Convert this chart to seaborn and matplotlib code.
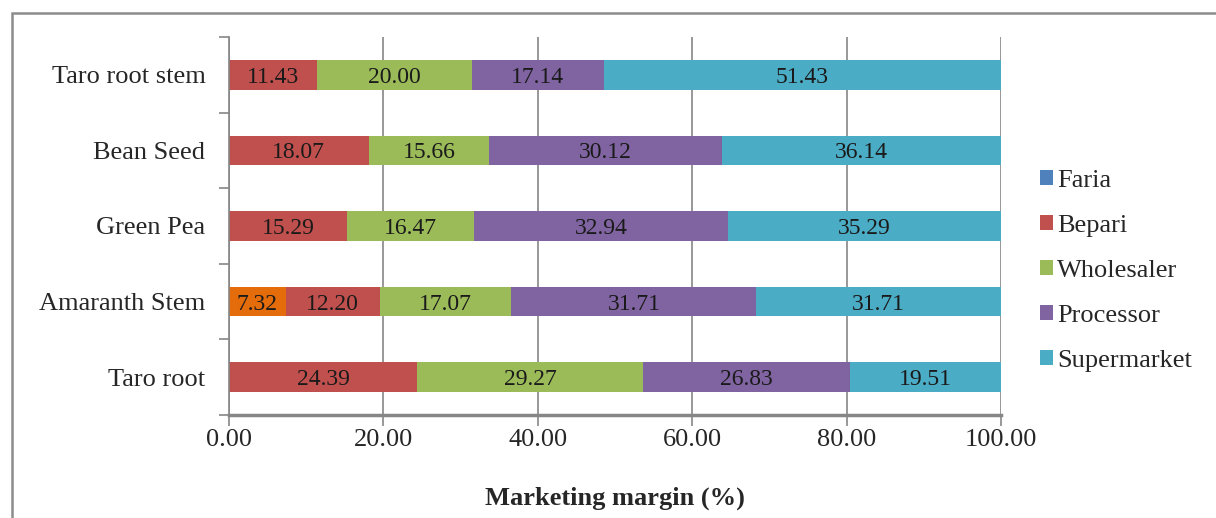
import pandas as pd
import matplotlib.pyplot as plt
import seaborn as sns
from matplotlib.patches import Patch, Rectangle

sns.set_style("white")
plt.rcParams["font.family"] = ["Liberation Serif", "DejaVu Serif"]

# data
products = ["Taro root stem", "Bean Seed", "Green Pea", "Amaranth Stem", "Taro root"]
actors = ["Faria", "Bepari", "Wholesaler", "Processor", "Supermarket"]
faria = [0.00, 0.00, 0.00, 7.32, 0.00]
bepari = [11.43, 18.07, 15.29, 12.20, 24.39]
wholesaler = [20.00, 15.66, 16.47, 17.07, 29.27]
processor = [17.14, 30.12, 32.94, 31.71, 26.83]
supermarket = [51.43, 36.14, 35.29, 31.71, 19.51]

colors = {"Faria": "#4F81BD", "Bepari": "#C0504D", "Wholesaler": "#9BBB59",
          "Processor": "#8064A2", "Supermarket": "#4BACC6"}
amaranth_faria = "#E46C0A"

df = pd.DataFrame({"Product": products, "Faria": faria, "Bepari": bepari,
                   "Wholesaler": wholesaler, "Processor": processor,
                   "Supermarket": supermarket})
cum = df[actors].cumsum(axis=1)
cum["Product"] = df["Product"]

fig = plt.figure(figsize=(12.16, 5.18), dpi=100)
ax = fig.add_axes([229 / 1216, 1 - 415 / 518, (1001 - 229) / 1216, (415 - 37) / 518])

# stacked bars: draw the cumulative totals from the outermost layer inwards
for actor in reversed(actors):
    pal = [colors[actor]] * len(products)
    if actor == "Faria":
        pal = [amaranth_faria if p == "Amaranth Stem" else colors[actor] for p in products]
    sns.barplot(data=cum, x=actor, y="Product", hue="Product", palette=pal,
                orient="h", width=0.39, legend=False, saturation=1,
                linewidth=0, ax=ax)

# segment labels
for i, p in enumerate(products):
    left = 0
    for actor in actors:
        v = df.loc[i, actor]
        if v > 0:
            ax.text(left + v / 2, i, f"{v:.2f}", ha="center", va="center_baseline",
                    fontsize=17, color="#1a1a1a")
        left += v

ax.set_xlim(0, 100)
ax.set_ylim(4.5, -0.5)
ax.set_xticks([0, 20, 40, 60, 80, 100])
ax.set_xticklabels([f"{t:.2f}" for t in [0, 20, 40, 60, 80, 100]], fontsize=19)
ax.set_yticks(range(len(products)))
ax.set_yticklabels(products, fontsize=19)
ax.set_yticks([k - 0.5 for k in range(len(products) + 1)], minor=True)
ax.tick_params(axis="y", which="major", left=True, length=0, pad=17)
ax.tick_params(axis="y", which="minor", left=True, length=7, width=1.2,
               color="#868686", direction="out")
ax.tick_params(axis="x", bottom=True, length=8, width=1.2, color="#868686",
               direction="out", pad=2)
ax.set_ylabel("")
ax.set_xlabel("Marketing margin (%)", fontsize=19, fontweight="bold", labelpad=26)

ax.grid(axis="x", color="#868686", linewidth=1.2)
ax.set_axisbelow(True)
for side in ["top", "right"]:
    ax.spines[side].set_visible(False)
ax.spines["left"].set_color("#868686")
ax.spines["left"].set_linewidth(1.2)
ax.spines["bottom"].set_color("#868686")
ax.spines["bottom"].set_linewidth(2.5)

handles = [Patch(facecolor=colors[a], edgecolor="none") for a in actors]
fig.legend(handles, actors, loc="center left", bbox_to_anchor=(1027 / 1216, 1 - 271 / 518),
           frameon=False, fontsize=19, handlelength=0.5, handleheight=0.5,
           handletextpad=0.15, labelspacing=0.87, borderpad=0)

# figure frame (only top and left are visible in the crop)
fig.patches.append(Rectangle((12 / 1216, -0.1), 1.2, 1 - 13 / 518 + 0.1,
                             transform=fig.transFigure, fill=False,
                             edgecolor="#8c8c8c", linewidth=1.8))

fig.savefig("out.png", dpi=100)
